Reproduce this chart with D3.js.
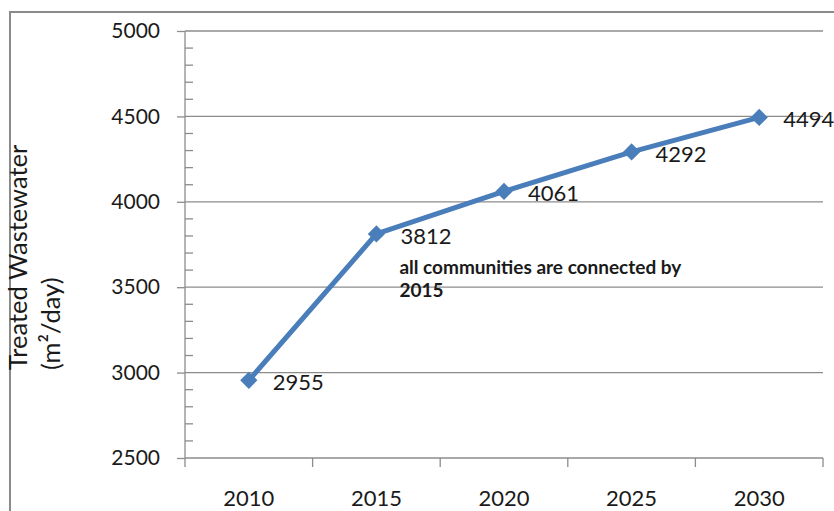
<!DOCTYPE html>
<html>
<head>
<meta charset="utf-8">
<script src="https://cdn.jsdelivr.net/npm/d3@7"></script>
<style>
  html, body { margin: 0; padding: 0; background: #fff; }
  svg { display: block; }
  text { font-family: Lato, "Open Sans", sans-serif; fill: #1a1a1a; }
</style>
</head>
<body>
<svg id="chart" width="834" height="511"></svg>
<script>
// Projected treated wastewater volumes
const years = ["2010", "2015", "2020", "2025", "2030"];
const treated = [2955, 3812, 4061, 4292, 4494];
const yTicks = [2500, 3000, 3500, 4000, 4500, 5000];
const yTitle = ["Treated Wastewater", "(m\u00b2/day)"];
const note = ["all communities are connected by", "2015"];

const svg = d3.select("#chart");
const W = 834, H = 511;
const plot = { left: 185, right: 823, top: 31, bottom: 458 };

const x = d3.scaleBand().domain(years).range([plot.left, plot.right]).padding(0);
const y = d3.scaleLinear().domain([2500, 5000]).range([plot.bottom, plot.top]);

// outer frame (left and top edges)
svg.append("path")
  .attr("d", `M10,${H} L10,12 L${W},12`)
  .attr("fill", "none").attr("stroke", "#8a8a8a").attr("stroke-width", 2);

// horizontal gridlines at major ticks
svg.append("g").selectAll("line").data(yTicks.filter(v => v > 2500)).join("line")
  .attr("x1", plot.left).attr("x2", plot.right)
  .attr("y1", d => y(d)).attr("y2", d => y(d))
  .attr("stroke", "#8c8c8c").attr("stroke-width", 1.3);

// y axis with major ticks to the left
const yAxis = d3.axisLeft(y).tickValues(yTicks).tickSize(8).tickPadding(17).tickFormat(d3.format("d"));
const gy = svg.append("g").attr("transform", `translate(${plot.left},0)`).call(yAxis);
gy.select(".domain").remove();
gy.selectAll(".tick line").attr("stroke", "#8c8c8c").attr("stroke-width", 1.3);
gy.selectAll(".tick text").attr("font-size", 21).attr("fill", "#1a1a1a")
  .attr("font-family", "Lato, sans-serif");

// minor ticks every 100 to the right of the axis
svg.append("g").selectAll("line")
  .data(y.ticks(25).filter(v => v % 500 !== 0)).join("line")
  .attr("x1", plot.left).attr("x2", plot.left + 8)
  .attr("y1", d => y(d)).attr("y2", d => y(d))
  .attr("stroke", "#8c8c8c").attr("stroke-width", 1.3);

// y axis line
svg.append("line")
  .attr("x1", plot.left).attr("x2", plot.left)
  .attr("y1", plot.top).attr("y2", plot.bottom + 9)
  .attr("stroke", "#8c8c8c").attr("stroke-width", 1.3);

// x axis with ticks at category boundaries
svg.append("line")
  .attr("x1", plot.left).attr("x2", plot.right)
  .attr("y1", plot.bottom).attr("y2", plot.bottom)
  .attr("stroke", "#8c8c8c").attr("stroke-width", 1.3);
svg.append("g").selectAll("line").data(years).join("line")
  .attr("x1", d => x(d) + x.bandwidth()).attr("x2", d => x(d) + x.bandwidth())
  .attr("y1", plot.bottom).attr("y2", plot.bottom + 9)
  .attr("stroke", "#8c8c8c").attr("stroke-width", 1.3);
svg.append("g").selectAll("text").data(years).join("text")
  .attr("x", d => x(d) + x.bandwidth() / 2)
  .attr("y", 506)
  .attr("text-anchor", "middle")
  .attr("font-size", 22)
  .text(d => d);

// y axis title, two rotated lines
svg.append("g").selectAll("text").data(yTitle).join("text")
  .attr("transform", (d, i) => `translate(${i === 0 ? 27 : 60},370) rotate(-90)`)
  .attr("text-anchor", "start")
  .attr("font-size", 25.5)
  .attr("fill", "#333")
  .text(d => d);

// series line and diamond markers
const pts = years.map((yr, i) => ({ yr, v: treated[i] }));
const cx = d => x(d.yr) + x.bandwidth() / 2;

svg.append("path")
  .datum(pts)
  .attr("d", d3.line().x(cx).y(d => y(d.v)))
  .attr("fill", "none")
  .attr("stroke", "#4a7ebb")
  .attr("stroke-width", 5)
  .attr("stroke-linejoin", "round");

svg.append("g").selectAll("path").data(pts).join("path")
  .attr("transform", d => `translate(${cx(d)},${y(d.v)})`)
  .attr("d", d3.symbol(d3.symbolDiamond2, 190)())
  .attr("fill", "#4a7ebb");

// value labels
svg.append("g").selectAll("text").data(pts).join("text")
  .attr("x", d => cx(d) + 24)
  .attr("y", d => y(d.v) + 10)
  .attr("font-size", 22)
  .text(d => d.v);

// annotation under the 2015 point
svg.append("g").selectAll("text").data(note).join("text")
  .attr("x", x("2015") + x.bandwidth() / 2 + 23)
  .attr("y", (d, i) => 274 + i * 23)
  .attr("font-size", 19)
  .attr("font-weight", 700)
  .text(d => d);
</script>
</body>
</html>
